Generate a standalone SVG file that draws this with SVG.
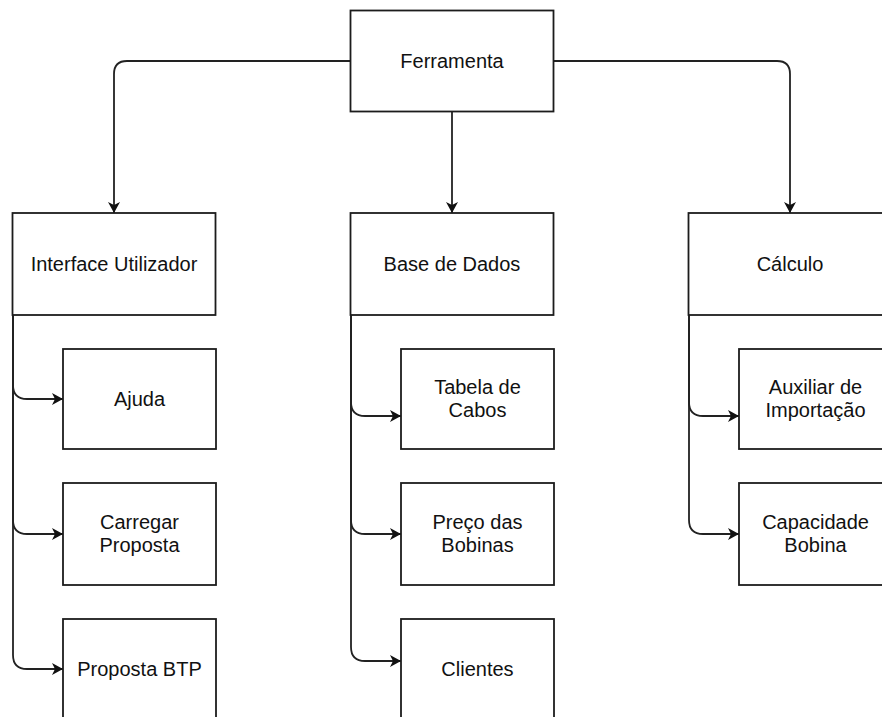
<svg xmlns="http://www.w3.org/2000/svg" width="882" height="717" viewBox="0 0 882 717">
  <style>
    .box { fill: #ffffff; stroke: #1c1c1c; stroke-width: 1.8; }
    .lbl { font-family: "Liberation Sans", Arial, Helvetica, sans-serif; font-size: 20px; fill: #111111; text-anchor: middle; }
    .edge { fill: none; stroke: #222222; stroke-width: 1.8; marker-end: url(#arrow); }
  </style>
  <defs>
    <marker id="arrow" markerUnits="userSpaceOnUse" markerWidth="12" markerHeight="13" refX="11" refY="6" orient="auto">
      <path d="M0,0 L11,6 L0,12 L3,6 Z" fill="#111111"/>
    </marker>
  </defs>
  <rect width="882" height="717" fill="#ffffff"/>

  <g id="connectors">
    <path class="edge" d="M350,61 H127 Q114,61 114,74 V213"/>
    <path class="edge" d="M452,112 V213"/>
    <path class="edge" d="M553,61 H777 Q790,61 790,74 V213"/>

    <path class="edge" d="M13,315 V385 Q13,399 27,399 H63"/>
    <path class="edge" d="M13,315 V520 Q13,534 27,534 H63"/>
    <path class="edge" d="M13,315 V655 Q13,669 27,669 H63"/>

    <path class="edge" d="M351,315 V402 Q351,416 365,416 H401"/>
    <path class="edge" d="M351,315 V520 Q351,534 365,534 H401"/>
    <path class="edge" d="M351,315 V647 Q351,661 365,661 H401"/>

    <path class="edge" d="M689,315 V402 Q689,416 703,416 H739"/>
    <path class="edge" d="M689,315 V520 Q689,534 703,534 H739"/>
  </g>

  <g id="ferramenta">
    <rect class="box" x="350.5" y="10.5" width="203" height="101"/>
    <text class="lbl" x="452" y="68">Ferramenta</text>
  </g>

  <g id="interface-utilizador">
    <rect class="box" x="12.5" y="213" width="203" height="102"/>
    <text class="lbl" x="114" y="271">Interface Utilizador</text>
  </g>
  <g id="base-de-dados">
    <rect class="box" x="350.5" y="213" width="203" height="102"/>
    <text class="lbl" x="452" y="271">Base de Dados</text>
  </g>
  <g id="calculo">
    <rect class="box" x="688.5" y="213" width="203" height="102"/>
    <text class="lbl" x="790" y="271">Cálculo</text>
  </g>

  <g id="ajuda">
    <rect class="box" x="63" y="349" width="153" height="100"/>
    <text class="lbl" x="139.5" y="406">Ajuda</text>
  </g>
  <g id="carregar-proposta">
    <rect class="box" x="63" y="483" width="153" height="102"/>
    <text class="lbl" x="139.5" y="529">Carregar</text>
    <text class="lbl" x="139.5" y="552">Proposta</text>
  </g>
  <g id="proposta-btp">
    <rect class="box" x="63" y="619" width="153" height="102"/>
    <text class="lbl" x="139.5" y="676">Proposta BTP</text>
  </g>

  <g id="tabela-de-cabos">
    <rect class="box" x="401" y="349" width="153" height="100"/>
    <text class="lbl" x="477.5" y="394">Tabela de</text>
    <text class="lbl" x="477.5" y="417">Cabos</text>
  </g>
  <g id="preco-das-bobinas">
    <rect class="box" x="401" y="483" width="153" height="102"/>
    <text class="lbl" x="477.5" y="529">Preço das</text>
    <text class="lbl" x="477.5" y="552">Bobinas</text>
  </g>
  <g id="clientes">
    <rect class="box" x="401" y="619" width="153" height="102"/>
    <text class="lbl" x="477.5" y="676">Clientes</text>
  </g>

  <g id="auxiliar-de-importacao">
    <rect class="box" x="739" y="349" width="153" height="100"/>
    <text class="lbl" x="815.5" y="394">Auxiliar de</text>
    <text class="lbl" x="815.5" y="417">Importação</text>
  </g>
  <g id="capacidade-bobina">
    <rect class="box" x="739" y="483" width="153" height="102"/>
    <text class="lbl" x="815.5" y="529">Capacidade</text>
    <text class="lbl" x="815.5" y="552">Bobina</text>
  </g>
</svg>
